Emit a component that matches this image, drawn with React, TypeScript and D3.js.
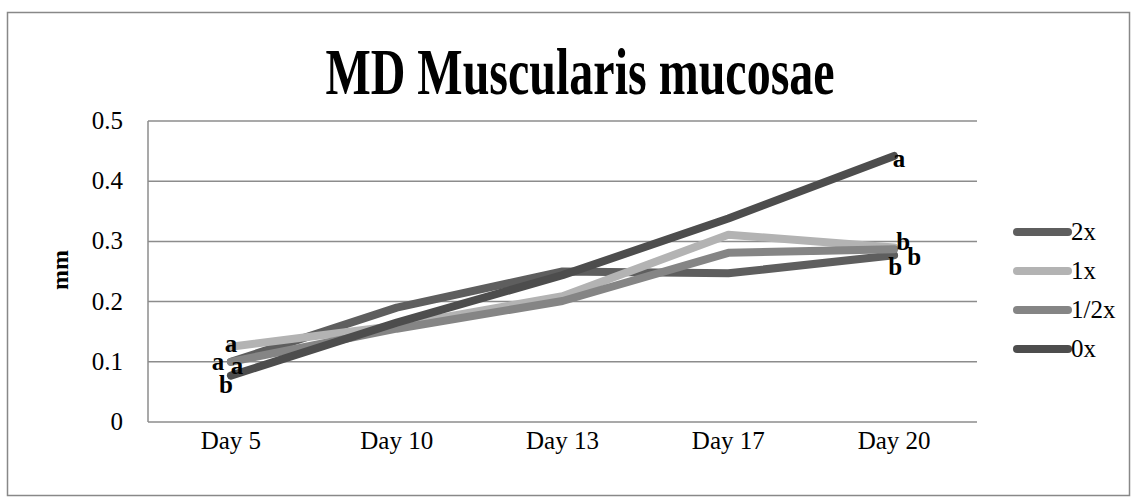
import * as d3 from "d3";

const days = ["Day 5", "Day 10", "Day 13", "Day 17", "Day 20"];
const seriesNames = ["2x", "1x", "1/2x", "0x"];
const values2x = [0.1, 0.19, 0.25, 0.247, 0.277];
const values1x = [0.125, 0.16, 0.209, 0.311, 0.29];
const valuesHalf = [0.1, 0.155, 0.201, 0.281, 0.287];
const values0x = [0.077, 0.165, 0.244, 0.338, 0.442];
const yTicks = [0, 0.1, 0.2, 0.3, 0.4, 0.5];
const colors = ["#5e5e5e", "#b3b3b3", "#858585", "#4d4d4d"];

// significance letters: series index, day index, letter, offset of glyph center
const letters: [number, number, string, number, number][] = [
  [1, 0, "a", 0, -1],
  [0, 0, "a", -13, 2],
  [2, 0, "a", 6, 6],
  [3, 0, "b", -5, 9],
  [3, 4, "a", 5, 5],
  [1, 4, "b", 9, -5],
  [2, 4, "b", 20, 8],
  [0, 4, "b", 1, 12],
];

const W = 1137;
const H = 497;
const left = 148;
const right = 977;
const top = 121;
const bottom = 422;
const FONT = "'Liberation Serif', 'Times New Roman', serif";
const FS = 25;

export default function App() {
  const allValues = [values2x, values1x, valuesHalf, values0x];

  const x = d3.scaleBand<string>().domain(days).range([left, right]).padding(0);
  const y = d3.scaleLinear().domain([0, 0.5]).range([bottom, top]);
  const cx = (d: string) => (x(d) ?? 0) + x.bandwidth() / 2;

  const line = d3
    .line<number>()
    .x((_, i) => cx(days[i]))
    .y((v) => y(v));

  const legendY = d3
    .scalePoint<string>()
    .domain(seriesNames)
    .range([232, 349]);

  return (
    <svg
      width={W}
      height={H}
      style={{ position: "absolute", left: 0, top: 0, background: "#fff" }}
      fontFamily={FONT}
    >
      <rect x={7.5} y={12.5} width={1122} height={483} fill="#fff" stroke="#888" strokeWidth={1.5} />

      <text
        transform="translate(580,94) scale(1,1.35)"
        textAnchor="middle"
        fontSize={48}
        fontWeight="bold"
        fill="#000"
      >
        MD Muscularis mucosae
      </text>

      {/* grid */}
      {yTicks.map((t) => (
        <g key={t}>
          {t > 0 && (
            <line x1={left} x2={right} y1={y(t)} y2={y(t)} stroke="#8c8c8c" strokeWidth={1.5} />
          )}
          <text x={123} y={y(t) + 8} textAnchor="end" fontSize={FS} fill="#000">
            {t}
          </text>
        </g>
      ))}
      <line x1={left} x2={left} y1={top} y2={bottom} stroke="#8c8c8c" strokeWidth={1.5} />
      <line x1={left} x2={right} y1={bottom} y2={bottom} stroke="#8c8c8c" strokeWidth={1.5} />

      {days.map((d) => (
        <text key={d} x={cx(d)} y={449} textAnchor="middle" fontSize={FS} fill="#000">
          {d}
        </text>
      ))}

      <text
        transform={`translate(68,270) rotate(-90)`}
        textAnchor="middle"
        fontSize={24}
        fontWeight="bold"
        fill="#000"
      >
        mm
      </text>

      {allValues.map((vals, i) => (
        <path
          key={seriesNames[i]}
          d={line(vals) ?? ""}
          fill="none"
          stroke={colors[i]}
          strokeWidth={8}
          strokeLinecap="round"
          strokeLinejoin="round"
        />
      ))}

      {letters.map(([s, di, txt, dx, dy], k) => {
        const px = cx(days[di]) + dx;
        const py = y(allValues[s][di]) + dy;
        const base = txt === "a" ? 6 : 8;
        return (
          <text
            key={k}
            x={px}
            y={py + base}
            textAnchor="middle"
            fontSize={25}
            fontWeight="bold"
            fill="#000"
          >
            {txt}
          </text>
        );
      })}

      {seriesNames.map((n, i) => {
        const ly = legendY(n) ?? 0;
        return (
          <g key={n}>
            <line x1={1017} x2={1068} y1={ly} y2={ly} stroke={colors[i]} strokeWidth={8} strokeLinecap="round" />
            <text x={1071} y={ly + 8} fontSize={FS} fill="#000">
              {n}
            </text>
          </g>
        );
      })}
    </svg>
  );
}
